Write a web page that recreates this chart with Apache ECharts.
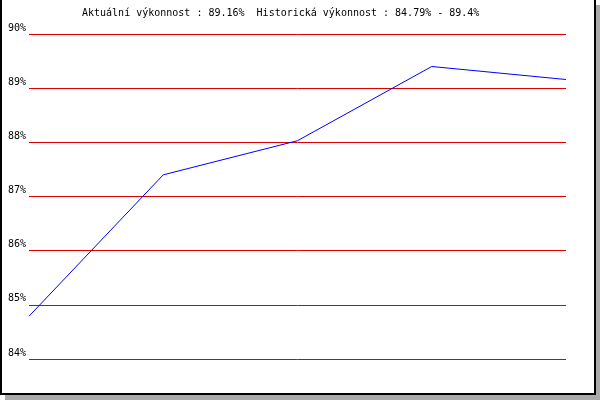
<!DOCTYPE html>
<html>
<head>
<meta charset="utf-8">
<script src="https://cdn.jsdelivr.net/npm/echarts@6/dist/echarts.min.js"></script>
<style>html,body{margin:0;padding:0;background:#fff}#c{width:600px;height:400px}</style>
</head>
<body>
<div id="c"></div>
<script>
const categories = ['1', '2', '3', '4', '5'];
const performance = [84.79, 87.40, 88.03, 89.40, 89.16];
const titleText = 'Aktuální výkonnost : 89.16%  Historická výkonnost : 84.79% - 89.4%';
const yMin = 84, yMax = 90, yStep = 1;

const chart = echarts.init(document.getElementById('c'), null, {renderer: 'canvas'});
const font = 'DejaVu Sans Mono';
chart.setOption({
  animation: false,
  backgroundColor: '#ffffff',
  grid: {left: 29, right: 34, top: 34, bottom: 41, containLabel: false},
  xAxis: {
    type: 'category', data: categories, boundaryGap: false,
    axisLine: {show: false}, axisTick: {show: false}, axisLabel: {show: false}, splitLine: {show: false}
  },
  yAxis: {
    type: 'value', min: yMin, max: yMax, interval: yStep,
    axisLine: {show: false}, axisTick: {show: false},
    axisLabel: {
      formatter: '{value}%', color: '#000', fontFamily: font, fontSize: 10,
      margin: 3, verticalAlign: 'bottom', lineHeight: 12
    },
    splitLine: {show: true, lineStyle: {color: '#dd0000', width: 1}}
  },
  series: [{
    type: 'line', data: performance, symbol: 'none',
    lineStyle: {color: '#0000ff', width: 1}, itemStyle: {color: '#0000ff'}
  }],
  graphic: [
    {type: 'text', left: 82, top: 8, style: {text: titleText, font: '10px "DejaVu Sans Mono"', fill: '#000'}},
    {type: 'rect', shape: {x: 0, y: 0, width: 2, height: 395}, style: {fill: '#000'}},
    {type: 'rect', shape: {x: 594, y: 0, width: 2, height: 395}, style: {fill: '#000'}},
    {type: 'rect', shape: {x: 0, y: 393, width: 596, height: 2}, style: {fill: '#000'}},
    {type: 'rect', shape: {x: 596, y: 5, width: 4, height: 395}, style: {fill: '#aaaaaa'}},
    {type: 'rect', shape: {x: 5, y: 395, width: 595, height: 5}, style: {fill: '#aaaaaa'}}
  ]
});
</script>
</body>
</html>
